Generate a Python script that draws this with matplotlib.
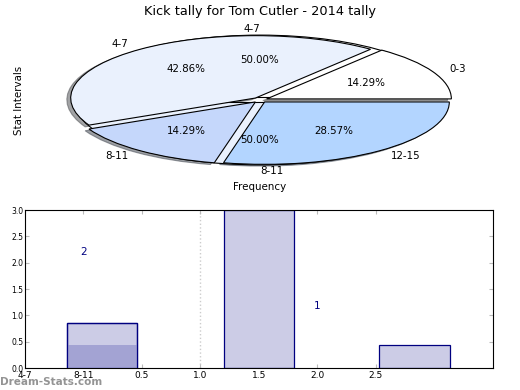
import matplotlib
matplotlib.use('Agg')
import matplotlib.pyplot as plt

# pie data
pie_labels = ['0-3', '4-7', '8-11', '12-15']
pie_counts = [1, 3, 1, 2]
pie_colors = ['#ffffff', '#eaf1fd', '#c5d7fb', '#b3d5ff']
pie2_labels = ['4-7', '8-11']
pie2_counts = [1, 1]
pie2_colors = ['#ffffff', '#eaf1fd']

# bar data
bar_x = [0.16, 1.5, 2.83]
bar_heights = [0.857, 3.0, 0.429]
overlay_x = [0.16]
overlay_heights = [0.429]
xtick_pos = [-0.5, 0.0, 0.5, 1.0, 1.5, 2.0, 2.5]
xtick_labels = ['4-7', '8-11', '0.5', '1.0', '1.5', '2.0', '2.5']
notes = [(0.0, 2.2, '2'), (2.0, 1.18, '1')]

fig = plt.figure(figsize=(5.2, 3.9), dpi=100)

ax1 = fig.add_axes([0.056, 0.5436, 0.888, 0.40])
wp = dict(edgecolor='black', linewidth=0.8)
ax1.pie(pie2_counts, labels=pie2_labels, colors=pie2_colors, autopct='%.2f%%',
        explode=[0.04, 0.04], wedgeprops=wp, textprops=dict(fontsize=7.4))
ax1.pie(pie_counts, labels=pie_labels, colors=pie_colors, autopct='%.2f%%',
        explode=[0.04] * 4, shadow=dict(ox=-0.015, oy=-0.02), wedgeprops=wp,
        textprops=dict(fontsize=7.4))
ax1.set_aspect('auto')
ax1.set_xlim(-1.25, 1.25)
ax1.set_ylim(-1.25, 1.25)
ax1.set_title('Kick tally for Tom Cutler - 2014 tally', fontsize=9.3, pad=5)
ax1.set_xlabel('Frequency', fontsize=7.4, labelpad=3)
ax1.set_ylabel('Stat Intervals', fontsize=7.4, labelpad=4)

ax2 = fig.add_axes([0.048, 0.0564, 0.9, 0.405])
ax2.bar(bar_x, bar_heights, width=0.6, color='#ccccE6', edgecolor='#000080', linewidth=0.9, zorder=2)
ax2.bar(overlay_x, overlay_heights, width=0.6, color='#a3a3d3', edgecolor='none', zorder=3)
ax2.bar(overlay_x, bar_heights[:1], width=0.6, color='none', edgecolor='#000080', linewidth=0.9, zorder=4)
ax2.axvline(1.0, color='#cccccc', linestyle=':', linewidth=1, zorder=1)
for x, y, s in notes:
    ax2.text(x, y, s, color='#000080', fontsize=7.5, ha='center', va='center')
ax2.set_xlim(-0.5, 3.5)
ax2.set_ylim(0, 3.0)
ax2.set_xticks(xtick_pos)
ax2.set_xticklabels(xtick_labels)
ax2.set_yticks([0, 0.5, 1.0, 1.5, 2.0, 2.5, 3.0])
ax2.tick_params(axis='x', labelsize=6.5, direction='in', color='#bbbbbb', length=3, top=True, pad=2)
ax2.tick_params(axis='y', labelsize=5.5, direction='in', color='#bbbbbb', length=3, right=True, pad=1)

fig.text(0.0, 0.012, 'Dream-Stats.com', color='#888888', fontsize=7.5, fontweight='bold', alpha=0.9)

fig.savefig('out.png', dpi=100)
